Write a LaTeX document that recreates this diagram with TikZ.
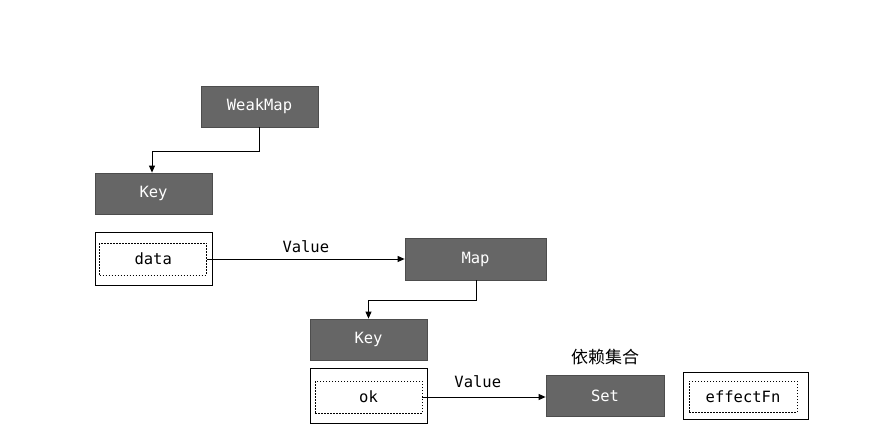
\documentclass[tikz,border=0pt]{standalone}
\usepackage{fontspec}
\setmonofont{DejaVu Sans Mono}
\newfontfamily\cjk{Noto Sans CJK SC}
\usetikzlibrary{arrows.meta}
\definecolor{boxfill}{HTML}{666666}
\definecolor{boxline}{HTML}{4D4D4D}
\begin{document}
\begin{tikzpicture}[x=1pt,y=-1pt,
  dark/.style={draw=boxline,fill=boxfill,line width=0.8pt,text=white,font=\ttfamily\fontsize{15.5}{17}\selectfont,inner sep=0pt},
  outer/.style={draw=black,line width=0.8pt,fill=white,inner sep=0pt},
  inner/.style={draw=black,dashed,dash pattern=on 1.5pt off 1.5pt,line width=0.7pt,font=\ttfamily\fontsize{15.5}{17}\selectfont,inner sep=0pt},
  conn/.style={line width=0.9pt,-{Triangle[length=7pt,width=6pt]}},
  lbl/.style={font=\ttfamily\fontsize{15.5}{17}\selectfont,inner sep=0pt}]
\useasboundingbox (0,0) rectangle (890,435);
\fill[white] (0,0) rectangle (890,435);
% dark boxes
\node[dark,minimum width=117pt,minimum height=41pt] (wm) at (259.5,106.5) {WeakMap};
\node[dark,minimum width=117pt,minimum height=41pt] (k1) at (153.5,193.5) {Key};
\node[dark,minimum width=141pt,minimum height=42pt] (map) at (475.5,259) {Map};
\node[dark,minimum width=117pt,minimum height=41pt] (k2) at (368.5,339.5) {Key};
\node[dark,minimum width=118pt,minimum height=41pt] (set) at (605,395.5) {Set};
% white outer boxes
\node[outer,minimum width=117pt,minimum height=53pt] (dout) at (153.5,258.5) {};
\node[inner,minimum width=107pt,minimum height=32pt] (data) at (153.2,259) {data};
\node[outer,minimum width=117pt,minimum height=55pt] (oout) at (368.5,395.5) {};
\node[inner,minimum width=107pt,minimum height=32pt] (ok) at (368.5,397) {ok};
\node[outer,minimum width=125pt,minimum height=47pt] (eout) at (745.5,395.5) {};
\node[inner,minimum width=108pt,minimum height=31pt] (eff) at (743,396.5) {effectFn};
% labels
\node[font=\cjk\fontsize{17}{19}\selectfont,inner sep=0pt] (dep) at (605,357) {依赖集合};
% connectors
\coordinate (c1) at (259.5,151);
\coordinate (c2) at (152,151);
\draw[conn] (wm.south) -- (c1) -- (c2) -- (k1.north -| c2);
\coordinate (c3) at (476,300);
\coordinate (c4) at (368.5,300);
\draw[conn] (map.south -| c3) -- (c3) -- (c4) -- (k2.north -| c4);
\draw[conn] (data.east) -- (map.west |- data.east) node[lbl,pos=0.5,above=6pt] (v1) {Value};
\draw[conn] (ok.east) -- (set.west |- ok.east) node[lbl,pos=0.45,above=9pt] (v2) {Value};
\end{tikzpicture}
\end{document}
